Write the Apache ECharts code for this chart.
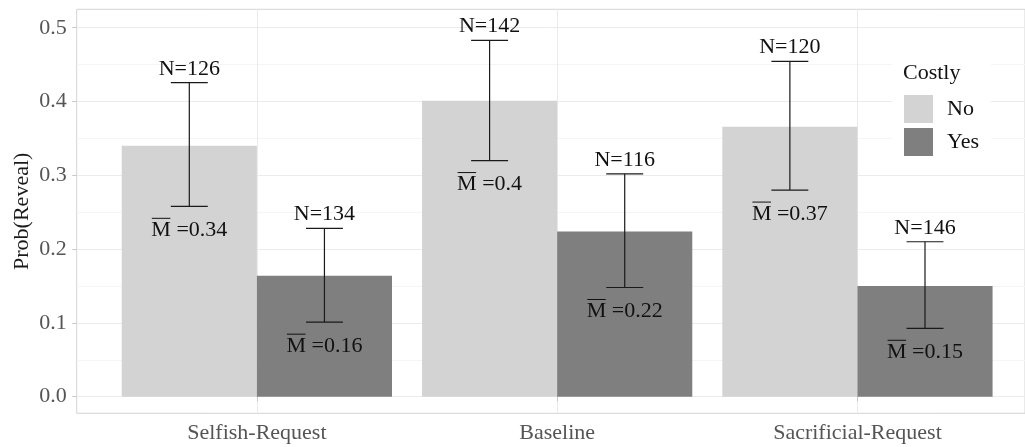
<!DOCTYPE html>
<html><head><meta charset="utf-8">
<script src="https://cdn.jsdelivr.net/npm/echarts@6/dist/echarts.min.js"></script>
<style>html,body{margin:0;padding:0;background:#fff}#c{width:1025px;height:447px}</style>
</head><body><div id="c"></div>
<script>
// ---- data ----
const categories = ['Selfish-Request', 'Baseline', 'Sacrificial-Request'];
const groups = ['No', 'Yes'];
const meanNo  = [0.340, 0.401, 0.366];
const meanYes = [0.164, 0.224, 0.150];
const loNo    = [0.258, 0.320, 0.280];
const hiNo    = [0.4255, 0.483, 0.4545];
const loYes   = [0.101, 0.148, 0.0927];
const hiYes   = [0.228, 0.302, 0.210];
const nNo     = [126, 142, 120];
const nYes    = [134, 116, 146];
const yTickValues = [0, 0.1, 0.2, 0.3, 0.4, 0.5];
const yTickLabels = ['0.0', '0.1', '0.2', '0.3', '0.4', '0.5'];

// ---- style / layout ----
const FONT_FAMILY = '"Liberation Serif", "Times New Roman", serif';
const FS = 22;
const colors = { No: '#d3d3d3', Yes: '#7f7f7f' };
const DODGE = 0.225, BARW = 0.45, CAPW = 0.123;
const MAJOR = '#ebebeb', MINOR = '#f5f5f5', NONE = 'rgba(0,0,0,0)';
const X_MIN = 0.4, X_MAX = 3.558;

const measureCtx = document.createElement('canvas').getContext('2d');
measureCtx.font = FS + 'px ' + FONT_FAMILY;
function fmt(v) { return String(parseFloat(v.toFixed(2))); }

function barData(means, off) { return means.map((m, i) => [i + 1 + off, m]); }
function errData(means, lo, hi, n, off) { return means.map((m, i) => [i + 1 + off, lo[i], hi[i], m, n[i]]); }

function barRender(params, api) {
  const x = api.value(0), y = api.value(1);
  const p0 = api.coord([x - BARW / 2, y]);
  const p1 = api.coord([x + BARW / 2, 0]);
  return { type: 'rect', shape: { x: p0[0], y: p0[1], width: p1[0] - p0[0], height: p1[1] - p0[1] },
           style: { fill: api.visual('color') } };
}

function errRender(params, api) {
  const x = api.value(0), lo = api.value(1), hi = api.value(2), m = api.value(3), n = api.value(4);
  const pHi = api.coord([x, hi]), pLo = api.coord([x, lo]);
  const half = api.size([CAPW, 0])[0] / 2;
  const cx = pHi[0];
  const stroke = { stroke: '#1a1a1a', lineWidth: 1.2 };
  const rest = ' =' + fmt(m);
  const wM = measureCtx.measureText('M').width, wR = measureCtx.measureText(rest).width;
  const sx = cx - (wM + wR) / 2;
  const ty = pLo[1] + 13;
  const font = FS + 'px ' + FONT_FAMILY;
  return { type: 'group', children: [
    { type: 'line', shape: { x1: cx, y1: pHi[1], x2: cx, y2: pLo[1] }, style: stroke },
    { type: 'line', shape: { x1: cx - half, y1: pHi[1], x2: cx + half, y2: pHi[1] }, style: stroke },
    { type: 'line', shape: { x1: cx - half, y1: pLo[1], x2: cx + half, y2: pLo[1] }, style: stroke },
    { type: 'text', style: { text: 'N=' + n, x: cx, y: pHi[1] - 3, align: 'center', verticalAlign: 'bottom', font: font, fill: '#111' } },
    { type: 'text', style: { text: 'M', x: sx, y: ty, align: 'left', verticalAlign: 'top', font: font, fill: '#111' } },
    { type: 'line', shape: { x1: sx + 0.5, y1: ty - 1, x2: sx + wM - 0.5, y2: ty - 1 }, style: { stroke: '#111', lineWidth: 1 } },
    { type: 'text', style: { text: rest, x: sx + wM, y: ty, align: 'left', verticalAlign: 'top', font: font, fill: '#111' } }
  ] };
}

// gridline colour cycles (ticks every 0.0025 from -0.0225; every 0.2 from 0.4)
const yCycle = []; for (let i = 0; i < 40; i++) yCycle.push(i === 9 ? MAJOR : (i === 29 ? MINOR : NONE));
const xCycle = [NONE, NONE, NONE, MAJOR, NONE];

const chart = echarts.init(document.getElementById('c'), null, { renderer: 'canvas' });
chart.setOption({
  animation: false,
  backgroundColor: '#fff',
  textStyle: { fontFamily: FONT_FAMILY },
  grid: { left: 76.7, top: 9.3, width: 949, height: 404, show: true, borderColor: '#d4d4d4', borderWidth: 1 },
  title: { text: 'Costly', left: 903, top: 62, padding: 0, backgroundColor: '#fff',
           textStyle: { fontFamily: FONT_FAMILY, fontSize: FS, fontWeight: 'normal', color: '#111' } },
  legend: {
    orient: 'vertical', left: 892, top: 58, padding: [37, 12, 8, 12], backgroundColor: '#fff',
    itemWidth: 29, itemHeight: 28, itemGap: 5,
    data: groups.map(g => ({ name: g, icon: 'rect' })),
    textStyle: { fontFamily: FONT_FAMILY, fontSize: FS, color: '#111', padding: [0, 0, 0, 9] }
  },
  xAxis: [
    { type: 'value', min: X_MIN, max: X_MAX, interval: 0.2, gridIndex: 0,
      axisLine: { show: false }, axisTick: { show: false }, axisLabel: { show: false },
      splitLine: { show: true, showMaxLine: false, lineStyle: { color: xCycle, width: 1 } } },
    { type: 'value', min: X_MIN, max: X_MAX, gridIndex: 0, position: 'bottom',
      axisLine: { show: false }, splitLine: { show: false },
      axisTick: { show: true, length: 4.5, customValues: [1, 2, 3], lineStyle: { color: '#c8c8c8' } },
      axisLabel: { show: true, margin: 9, customValues: [1, 2, 3], fontSize: FS, color: '#555',
                   fontFamily: FONT_FAMILY, formatter: v => categories[Math.round(v) - 1] || '' } }
  ],
  yAxis: [
    { type: 'value', min: -0.0225, max: 0.525, interval: 0.0025,
      axisLine: { show: false }, axisTick: { show: false }, axisLabel: { show: false },
      splitLine: { show: true, lineStyle: { color: yCycle, width: 1 } } },
    { type: 'value', min: -0.0225, max: 0.525, position: 'left',
      name: 'Prob(Reveal)', nameLocation: 'middle', nameRotate: 90, nameGap: 43, nameMoveOverlap: false,
      nameTextStyle: { fontFamily: FONT_FAMILY, fontSize: FS, color: '#1a1a1a' },
      axisLine: { show: false }, splitLine: { show: false },
      axisTick: { show: true, length: 4.5, customValues: yTickValues, lineStyle: { color: '#c8c8c8' } },
      axisLabel: { show: true, margin: 10, customValues: yTickValues, fontSize: FS, color: '#555',
                   fontFamily: FONT_FAMILY,
                   formatter: v => { const i = yTickValues.findIndex(t => Math.abs(t - v) < 1e-9); return i >= 0 ? yTickLabels[i] : ''; } } }
  ],
  series: [
    { name: 'No', type: 'custom', xAxisIndex: 0, yAxisIndex: 0, itemStyle: { color: colors.No },
      renderItem: barRender, data: barData(meanNo, -DODGE), z: 2 },
    { name: 'Yes', type: 'custom', xAxisIndex: 0, yAxisIndex: 0, itemStyle: { color: colors.Yes },
      renderItem: barRender, data: barData(meanYes, DODGE), z: 2 },
    { name: 'errNo', type: 'custom', xAxisIndex: 0, yAxisIndex: 0, renderItem: errRender,
      data: errData(meanNo, loNo, hiNo, nNo, -DODGE), z: 3 },
    { name: 'errYes', type: 'custom', xAxisIndex: 0, yAxisIndex: 0, renderItem: errRender,
      data: errData(meanYes, loYes, hiYes, nYes, DODGE), z: 3 }
  ]
});
</script>
</body></html>
